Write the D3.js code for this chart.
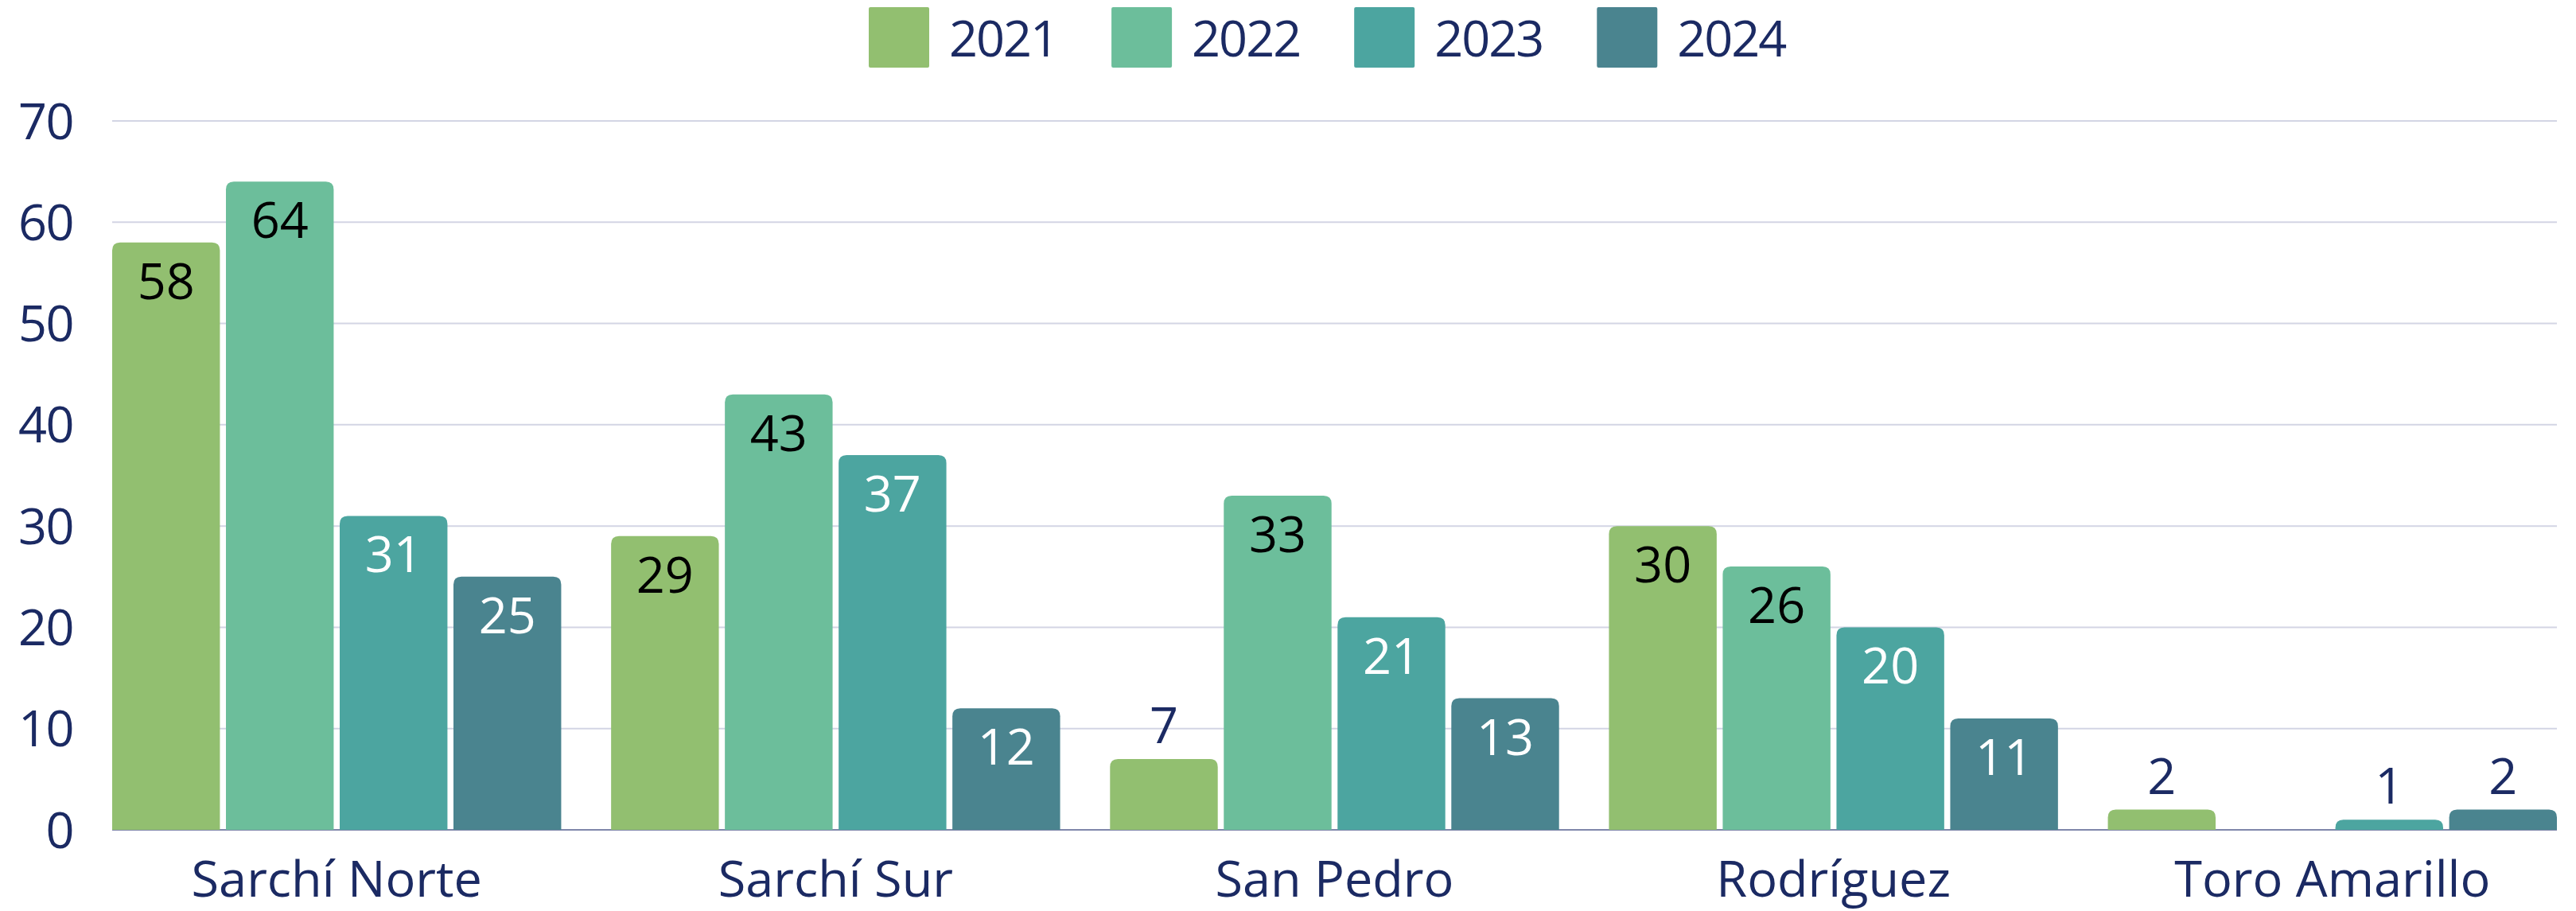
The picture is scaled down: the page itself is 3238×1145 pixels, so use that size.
<!DOCTYPE html>
<html>
<head>
<meta charset="utf-8">
<script src="https://cdn.jsdelivr.net/npm/d3@7"></script>
<style>
  html, body { margin: 0; padding: 0; background: #ffffff; }
  svg { display: block; }
  text { font-family: "Open Sans", "Noto Sans", sans-serif; }
</style>
</head>
<body>
<script>
// ---------- data ----------
const categories = ["Sarchí Norte", "Sarchí Sur", "San Pedro", "Rodríguez", "Toro Amarillo"];
const years = ["2021", "2022", "2023", "2024"];
const values2021 = [58, 29, 7, 30, 2];
const values2022 = [64, 43, 33, 26, null];
const values2023 = [31, 37, 21, 20, 1];
const values2024 = [25, 12, 13, 11, 2];
const yTicks = [0, 10, 20, 30, 40, 50, 60, 70];
const colors = ["#92BF70", "#6CBE9B", "#4CA5A0", "#4A848F"];
const insideLabelColors = ["#000000", "#000000", "#ffffff", "#ffffff"];

const seriesValues = [values2021, values2022, values2023, values2024];

// ---------- layout ----------
const W = 3238, H = 1145;
const plotLeft = 141, plotRight = 3214, plotTop = 152, plotBottom = 1043;
const navy = "#1B2A63";
const fontSize = 63;

const svg = d3.select("body").append("svg").attr("width", W).attr("height", H);

const x0 = d3.scaleBand().domain(categories).range([plotLeft, plotRight]).paddingInner(0.1).paddingOuter(0);
const x1 = d3.scaleBand().domain(years).range([0, x0.bandwidth()]).paddingInner(0.053).paddingOuter(0);
const y = d3.scaleLinear().domain([0, 70]).range([plotBottom, plotTop]);
const color = d3.scaleOrdinal().domain(years).range(colors);

// gridlines
svg.append("g").selectAll("line").data(yTicks.filter(t => t > 0)).join("line")
  .attr("x1", plotLeft).attr("x2", plotRight)
  .attr("y1", d => y(d)).attr("y2", d => y(d))
  .attr("stroke", "#D3D5E4").attr("stroke-width", 2);

// y axis labels
const yAxis = d3.axisLeft(y).tickValues(yTicks).tickSize(0).tickPadding(0);
const yg = svg.append("g").attr("transform", `translate(92,0)`).call(yAxis);
yg.select(".domain").remove();
yg.selectAll("text").attr("font-size", fontSize).attr("fill", navy)
  .attr("font-family", "'Open Sans', sans-serif").attr("dy", "0.35em")
  .attr("letter-spacing", -1.5);

// baseline
svg.append("line").attr("x1", plotLeft).attr("x2", plotRight).attr("y1", y(0)).attr("y2", y(0))
  .attr("stroke", "#7F86AA").attr("stroke-width", 2);

// bars data
const barData = [];
categories.forEach((c, ci) => {
  years.forEach((yr, si) => {
    const v = seriesValues[si][ci];
    if (v !== null && v !== undefined) barData.push({ cat: c, year: yr, si, v });
  });
});

function topRoundedRect(x, yTop, w, h, r) {
  r = Math.min(r, h, w / 2);
  return `M${x},${yTop + h}V${yTop + r}Q${x},${yTop} ${x + r},${yTop}H${x + w - r}Q${x + w},${yTop} ${x + w},${yTop + r}V${yTop + h}Z`;
}

svg.append("g").selectAll("path").data(barData).join("path")
  .attr("d", d => {
    const bx = x0(d.cat) + x1(d.year);
    const yt = y(d.v);
    return topRoundedRect(bx, yt, x1.bandwidth(), y(0) - yt, 10);
  })
  .attr("fill", d => color(d.year));

// labels
svg.append("g").selectAll("text").data(barData).join("text")
  .attr("x", d => x0(d.cat) + x1(d.year) + x1.bandwidth() / 2)
  .attr("y", d => {
    const h = y(0) - y(d.v);
    return h > 100 ? y(d.v) + 71 : y(d.v) - 20;
  })
  .attr("text-anchor", "middle")
  .attr("font-size", fontSize)
  .attr("fill", d => (y(0) - y(d.v) > 100) ? insideLabelColors[d.si] : navy)
  .text(d => d.v);

// x axis labels
const xAxis = d3.axisBottom(x0).tickSize(0).tickPadding(0);
const xg = svg.append("g").attr("transform", `translate(0,${plotBottom})`).call(xAxis);
xg.select(".domain").remove();
xg.selectAll("text").attr("font-size", 63).attr("fill", navy)
  .attr("font-family", "'Open Sans', sans-serif").attr("dy", null).attr("y", 84);

// legend
const legend = svg.append("g");
let lx = 1092;
years.forEach((yr, i) => {
  legend.append("rect").attr("x", lx).attr("y", 9).attr("width", 76).attr("height", 76)
    .attr("rx", 2).attr("fill", color(yr));
  const t = legend.append("text").attr("x", lx + 101).attr("y", 71)
    .attr("font-size", fontSize).attr("fill", navy).attr("letter-spacing", -2).text(yr);
  const tw = t.node().getComputedTextLength();
  lx = lx + 101 + tw + 68;
});
</script>
</body>
</html>
